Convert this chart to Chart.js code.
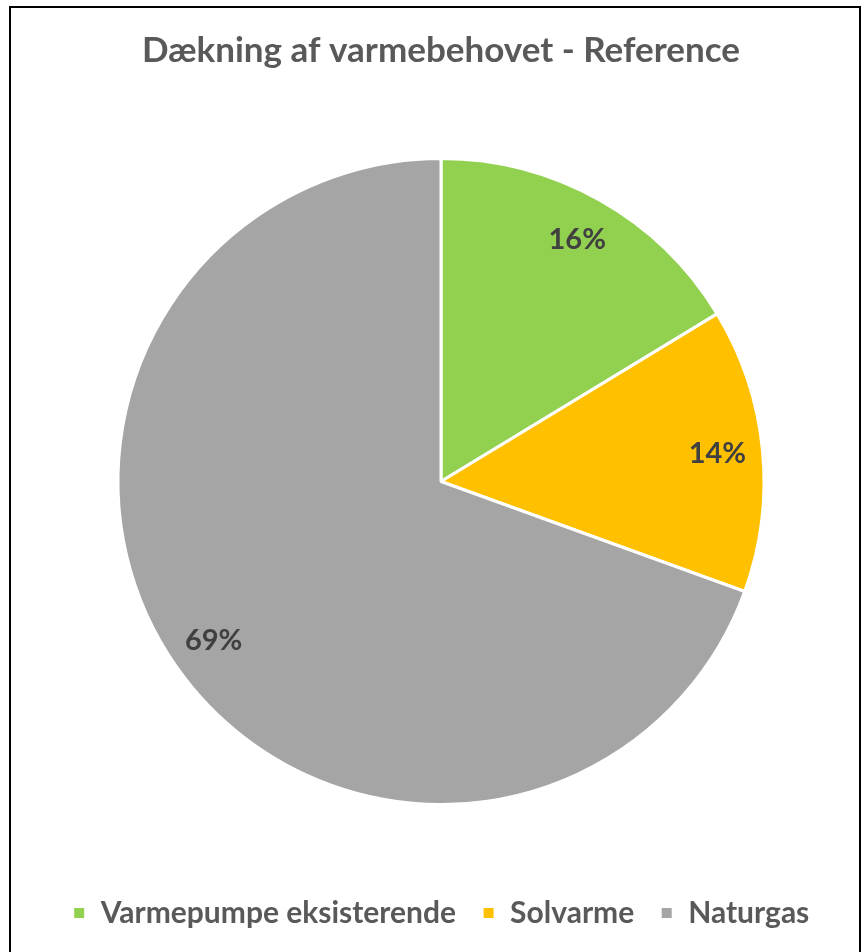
<!DOCTYPE html>
<html>
<head>
<meta charset="utf-8">
<script src="https://cdn.jsdelivr.net/npm/chart.js@4.4.0/dist/chart.umd.min.js"></script>
<style>
  body { margin: 0; background: #fff; overflow: hidden; }
  #frame {
    position: absolute; left: 9px; top: 6px;
    width: 852px; height: 960px;
    border: 2px solid #000; box-sizing: border-box; background: #fff;
  }
  #wrap { position: absolute; left: 0; top: 0; width: 848px; height: 946px; }
</style>
</head>
<body>
<div id="frame"><div id="wrap"><canvas id="pieChart"></canvas></div></div>
<script>
// Data
const categories = ['Varmepumpe eksisterende', 'Solvarme', 'Naturgas'];
const shares = [16.3, 14.2, 69.4];
const sliceColors = ['#92D050', '#FFC000', '#A5A5A5'];
const chartTitle = 'Dækning af varmebehovet - Reference';

// Percent labels inside the slices, near the outer edge
const pieLabels = {
    id: 'pieLabels',
    afterDatasetsDraw(chart) {
        const ctx = chart.ctx;
        const meta = chart.getDatasetMeta(0);
        const total = shares.reduce((a, b) => a + b, 0);
        ctx.save();
        ctx.font = 'bold 29px Lato';
        ctx.fillStyle = '#404040';
        ctx.textAlign = 'center';
        ctx.textBaseline = 'middle';
        meta.data.forEach((arc, i) => {
            const p = arc.getProps(['x', 'y', 'startAngle', 'endAngle', 'outerRadius'], true);
            const mid = (p.startAngle + p.endAngle) / 2;
            const r = p.outerRadius * 0.86;
            const txt = Math.round(shares[i] / total * 100) + '%';
            ctx.fillText(txt, p.x + Math.cos(mid) * r, p.y + Math.sin(mid) * r);
        });
        ctx.restore();
    }
};

const ctx = document.getElementById('pieChart').getContext('2d');
const chart = new Chart(ctx, {
    type: 'pie',
    data: {
        labels: categories,
        datasets: [{
            data: shares,
            backgroundColor: sliceColors,
            borderColor: '#ffffff',
            borderWidth: 3
        }]
    },
    options: {
        responsive: true,
        maintainAspectRatio: false,
        animation: false,
        layout: { padding: { left: 12, right: 0, top: 0, bottom: 16 } },
        plugins: {
            title: {
                display: true,
                text: chartTitle,
                color: '#595959',
                font: { family: 'Lato', size: 35, weight: 'bold' },
                padding: { top: 22, bottom: 85 }
            },
            legend: {
                position: 'bottom',
                // empty legend title used as a spacer between pie and legend
                title: { display: true, text: '', font: { size: 10 }, padding: { top: 54, bottom: 0 } },
                labels: {
                    color: '#595959',
                    font: { family: 'Lato', size: 30, weight: 'bold' },
                    boxWidth: 13,
                    boxHeight: 13,
                    padding: 26
                }
            },
            tooltip: { enabled: false }
        }
    },
    plugins: [pieLabels]
});
</script>
</body>
</html>
